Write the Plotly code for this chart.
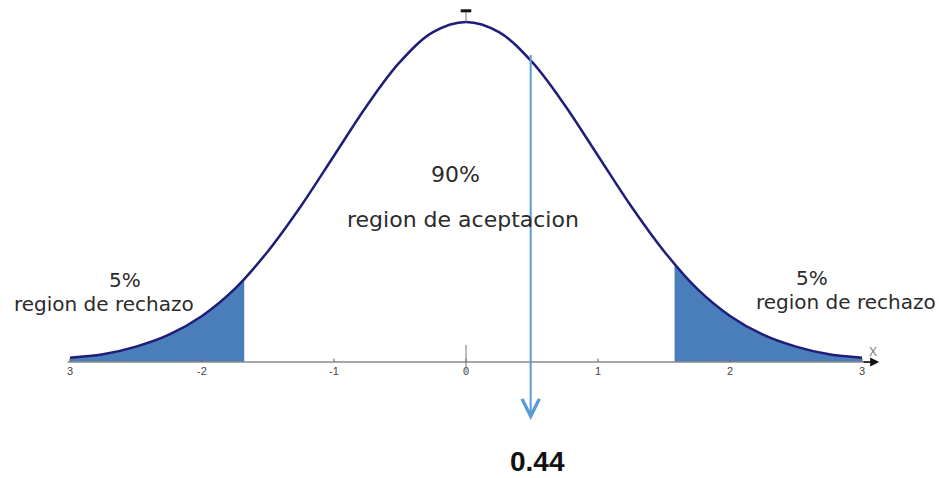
import plotly.graph_objects as go

# curve heights
curve_x = [-3.0, -2.75, -2.5, -2.25, -2.0, -1.75, -1.5, -1.25, -1.0, -0.75, -0.5, -0.25, 0.0,
           0.25, 0.5, 0.75, 1.0, 1.25, 1.5, 1.75, 2.0, 2.25, 2.5, 2.75, 3.0]
curve_y = [0.005, 0.009, 0.018, 0.032, 0.054, 0.086, 0.130, 0.183, 0.242, 0.301, 0.352, 0.387, 0.399,
           0.387, 0.352, 0.301, 0.242, 0.183, 0.130, 0.086, 0.054, 0.032, 0.018, 0.009, 0.005]

# rejection regions (tails)
left_x = [-3.0, -2.75, -2.5, -2.25, -2.0, -1.75, -1.68]
left_y = [0.005, 0.009, 0.018, 0.032, 0.054, 0.086, 0.097]
right_x = [1.58, 1.75, 2.0, 2.25, 2.5, 2.75, 3.0]
right_y = [0.115, 0.086, 0.054, 0.032, 0.018, 0.009, 0.005]

tick_vals = [-3, -2, -1, 0, 1, 2, 3]
tick_text = ["3", "-2", "-1", "0", "1", "2", "3"]

stat_x = 0.49
stat_label = "0.44"

fig = go.Figure()

for xs, ys in [(left_x, left_y), (right_x, right_y)]:
    fig.add_trace(go.Scatter(x=xs, y=ys, mode="lines", fill="tozeroy",
                             fillcolor="#4a7ebb", line=dict(width=0, shape="spline"),
                             hoverinfo="skip"))

fig.add_trace(go.Scatter(x=curve_x, y=curve_y, mode="lines",
                         line=dict(color="#1f1c7a", width=2.5, shape="spline")))

# tick labels
fig.add_trace(go.Scatter(x=tick_vals, y=[-0.012] * len(tick_vals), mode="text",
                         text=tick_text, textfont=dict(family="Liberation Sans", size=11, color="#444444")))

# x axis line + ticks
fig.add_shape(type="line", x0=-3.02, x1=3.08, y0=0, y1=0, line=dict(color="#8a8a8a", width=1.5))
for t in tick_vals:
    fig.add_shape(type="line", x0=t, x1=t, y0=0, y1=0.004, line=dict(color="#666666", width=1))
fig.add_shape(type="line", x0=0, x1=0, y0=-0.013, y1=0.02, line=dict(color="#777777", width=1))
# little mark at the top of the curve
fig.add_shape(type="line", x0=0, x1=0, y0=0.399, y1=0.413, line=dict(color="#777777", width=1))
fig.add_shape(type="line", x0=-0.04, x1=0.04, y0=0.412, y1=0.412, line=dict(color="#111111", width=3))

# axis arrow head and X label
fig.add_annotation(x=3.13, y=0, ax=3.0, ay=0, axref="x", ayref="y", text="",
                   showarrow=True, arrowhead=2, arrowsize=1.2, arrowwidth=1.5, arrowcolor="#111111")
fig.add_annotation(x=3.08, y=0.012, text="X", showarrow=False,
                   font=dict(family="Liberation Sans", size=12, color="#777777"))

# statistic arrow
fig.add_annotation(x=stat_x, y=-0.068, ax=stat_x, ay=0.362, axref="x", ayref="y", text="",
                   showarrow=True, arrowhead=5, arrowsize=1.7, arrowwidth=2, arrowcolor="#5b9bd5")
fig.add_annotation(x=0.54, y=-0.1173, text="<b>" + stat_label + "</b>", showarrow=False,
                   font=dict(family="Liberation Sans", size=28, color="#111111"))

txt_font = dict(family="DejaVu Sans", size=22, color="#2b2b2b")
fig.add_annotation(x=-0.083, y=0.2194, text="90%", showarrow=False, font=txt_font)
fig.add_annotation(x=-0.023, y=0.1666, text="region de aceptacion", showarrow=False, font=txt_font)

side_font = dict(family="DejaVu Sans", size=20, color="#2b2b2b")
fig.add_annotation(x=-2.58, y=0.0962, text="5%", showarrow=False, font=side_font)
fig.add_annotation(x=-2.74, y=0.0680, text="region de rechazo", showarrow=False, font=side_font)
fig.add_annotation(x=2.62, y=0.0985, text="5%", showarrow=False, font=side_font)
fig.add_annotation(x=2.88, y=0.0704, text="region de rechazo", showarrow=False, font=side_font)

fig.update_layout(
    width=943, height=470,
    margin=dict(l=0, r=0, t=0, b=0),
    paper_bgcolor="white", plot_bgcolor="white",
    showlegend=False,
    xaxis=dict(range=[-3.4697, 3.6742], visible=False),
    yaxis=dict(range=[-0.1361, 0.4153], visible=False),
)

fig.write_html("out.html")
